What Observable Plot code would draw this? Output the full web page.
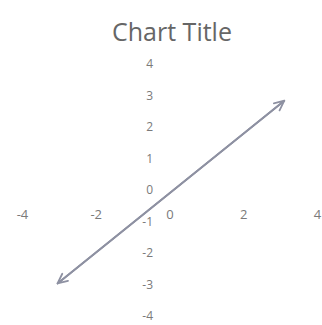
<!DOCTYPE html>
<html>
<head>
<meta charset="utf-8">
<script src="https://cdn.jsdelivr.net/npm/d3@7"></script>
<script src="https://cdn.jsdelivr.net/npm/@observablehq/plot@0.6"></script>
<style>
  html, body { margin: 0; padding: 0; background: #ffffff; }
  #chart { width: 322px; height: 325px; overflow: hidden; }
</style>
</head>
<body>
<div id="chart"></div>
<script>
const title = "Chart Title";
const xTicks = [-4, -2, 0, 2, 4];
const yTicks = [4, 3, 2, 1, 0, -1, -2, -3, -4];
const lineX = [-3.05, 3.1];
const lineY = [-2.95, 2.85];

const fwd = [{x1: lineX[0], y1: lineY[0], x2: lineX[1], y2: lineY[1]}];
const back = [{x1: lineX[1], y1: lineY[1], x2: lineX[0], y2: lineY[0]}];

const chart = Plot.plot({
  width: 322,
  height: 325,
  marginLeft: 22,
  marginRight: 5,
  marginTop: 64,
  marginBottom: 9,
  x: {domain: [-4, 4], axis: null},
  y: {domain: [-4, 4], axis: null},
  style: {background: "#ffffff", fontFamily: "Open Sans, sans-serif"},
  marks: [
    Plot.text(xTicks, {x: d => d, y: 0, text: d => String(d), dy: 24, fontSize: 13, fill: "#7a7a7a"}),
    Plot.text(yTicks, {x: 0, y: d => d, text: d => String(d), dx: -17, textAnchor: "end", fontSize: 12, fill: "#7a7a7a"}),
    Plot.arrow(fwd, {x1: "x1", y1: "y1", x2: "x2", y2: "y2", stroke: "#8e91a2", strokeWidth: 1.8, headLength: 9, headAngle: 50}),
    Plot.arrow(back, {x1: "x1", y1: "y1", x2: "x2", y2: "y2", stroke: "#8e91a2", strokeWidth: 1.8, headLength: 9, headAngle: 50}),
    Plot.text([title], {frameAnchor: "top", text: d => d, dy: -41, dx: 2, fontSize: 25, fill: "#666666"})
  ]
});
document.getElementById("chart").appendChild(chart);
</script>
</body>
</html>
